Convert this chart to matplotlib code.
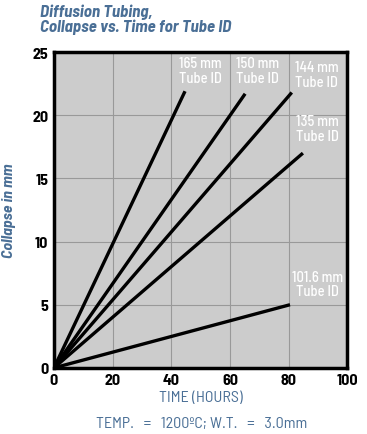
import matplotlib
matplotlib.use("Agg")
import matplotlib.pyplot as plt

# data: straight lines from the origin
tube_ids = ["165 mm", "150 mm", "144 mm", "135 mm", "101.6 mm"]
end_hours = [44.7, 65.2, 81.1, 84.9, 80.5]
end_collapse = [21.9, 21.7, 21.8, 17.0, 5.0]
label_x = [49.8, 69.3, 89.6, 90.0, 90.0]
label_y = [22.4, 22.4, 22.1, 17.8, 5.5]

xticks = [0, 20, 40, 60, 80, 100]
yticks = [0, 5, 10, 15, 20, 25]

BLUE = "#4a6f96"
FONT = ["Barlow Semi Condensed", "DejaVu Sans"]

fig = plt.figure(figsize=(3.67, 4.35), dpi=100)
ax = fig.add_axes([0.147, 0.152, 0.799, 0.726])
ax.set_facecolor("#cccccc")

for tid, hx, cy, lx, ly in zip(tube_ids, end_hours, end_collapse, label_x, label_y):
    ax.plot([0, hx], [0, cy], color="black", lw=2.4, solid_capstyle="butt", zorder=3)
    ax.text(lx, ly, f"{tid}\nTube ID", color="white", fontsize=10.5, family=FONT,
            fontweight="medium", ha="center", va="bottom", linespacing=1.05, zorder=4)

ax.set_xlim(0, 100)
ax.set_ylim(0, 25)
ax.set_xticks(xticks)
ax.set_yticks(yticks)
ax.grid(True, color="#999999", lw=0.8)
ax.set_axisbelow(True)
for s in ax.spines.values():
    s.set_linewidth(2.5)
ax.tick_params(length=0, pad=4)
for lbl in ax.get_xticklabels() + ax.get_yticklabels():
    lbl.set_fontfamily(FONT)
    lbl.set_fontweight("bold")
    lbl.set_fontsize(11.5)

ax.set_xlabel("TIME (HOURS)", color=BLUE, fontsize=11.5, family=FONT, labelpad=2)
ax.set_ylabel("Collapse in mm", color=BLUE, fontsize=11.5, family=FONT,
              fontweight="bold", style="italic", labelpad=12)

fig.text(0.11, 0.99, "Diffusion Tubing,\nCollapse vs. Time for Tube ID", color=BLUE,
         fontsize=12.2, family=FONT, fontweight="bold", style="italic",
         ha="left", va="top", linespacing=1.0)
fig.text(0.55, 0.025, "TEMP.   =   1200ºC; W.T.   =   3.0mm", color=BLUE, fontsize=11.5,
         family=FONT, ha="center", va="center")

fig.savefig("out.png", dpi=100)
